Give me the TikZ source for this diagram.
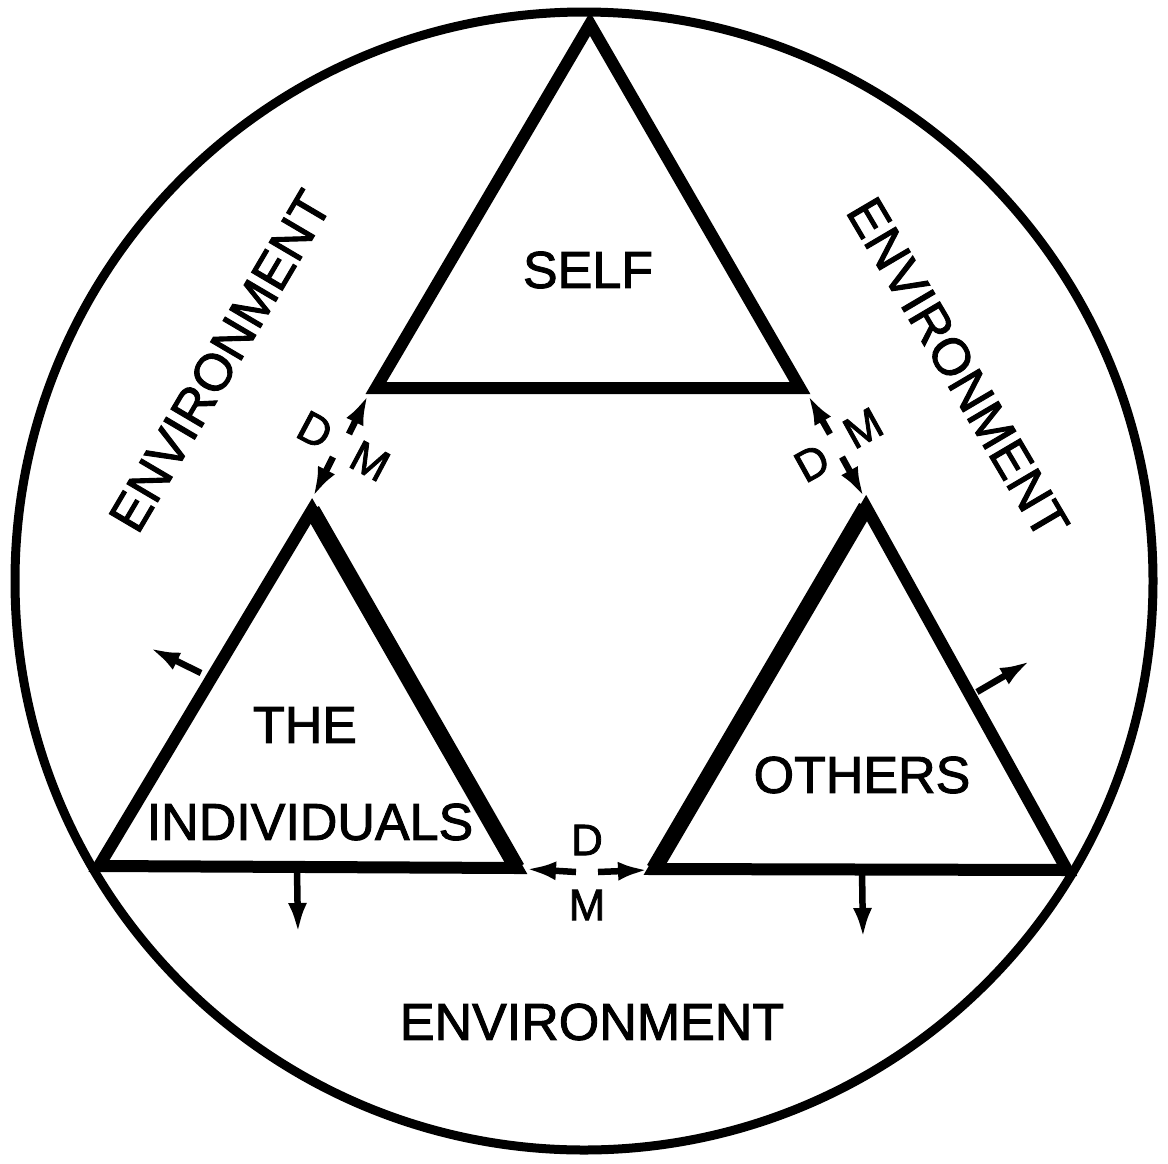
\documentclass[tikz,border=0pt]{standalone}
\usepackage{fontspec}
\setmainfont[FakeBold=1.8]{Liberation Sans}
\usetikzlibrary{arrows.meta}
\begin{document}
\begin{tikzpicture}[x=1pt,y=-1pt,
  edge/.style={line width=12pt, line join=miter},
  heavyedge/.style={line width=16pt},
  arr/.style={line width=6.5pt, -{Latex[length=30pt,width=19pt]}},
  lbl/.style={font=\fontsize{52}{60}\selectfont, inner sep=0pt},
  dm/.style={font=\fontsize{44}{50}\selectfont, inner sep=0pt}]
\useasboundingbox (0,0) rectangle (1168,1163);
% circle
\coordinate (O) at (584,581);
\draw[line width=9pt] (O) circle[radius=569];
% triangle vertices
\coordinate (T1) at (590,24);
\coordinate (T2) at (376,388);
\coordinate (T3) at (800,388);
\coordinate (L1) at (312,510);
\coordinate (L2) at (99,866);
\coordinate (L3) at (517,868);
\coordinate (R1) at (866,507);
\coordinate (R2) at (654,869);
\coordinate (R3) at (1067,870);
\draw[edge] (T1) -- (T2) -- (T3) -- cycle;
\draw[edge] (L1) -- (L2) -- (L3) -- cycle;
\draw[edge] (R1) -- (R2) -- (R3) -- cycle;
\draw[heavyedge] (L1) -- (L3);
\draw[heavyedge] (R1) -- (R2);
% connector coordinates
\coordinate (la1) at (349,434);
\coordinate (la1t) at (368,395);
\coordinate (la2) at (333,457);
\coordinate (la2t) at (313,497);
\coordinate (ra1) at (830,434);
\coordinate (ra1t) at (808,395);
\coordinate (ra2) at (842,457);
\coordinate (ra2t) at (864,497);
\coordinate (ba1) at (576,872);
\coordinate (ba1t) at (526,869);
\coordinate (ba2) at (598,872);
\coordinate (ba2t) at (648,870);
\coordinate (sl) at (201,673);
\coordinate (slt) at (150,648);
\coordinate (sr) at (977,692);
\coordinate (srt) at (1030,661);
\coordinate (dl) at (297,870);
\coordinate (dlt) at (298,933);
\coordinate (dr) at (862,870);
\coordinate (drt) at (863,938);
\draw[arr] (la1) -- (la1t);
\draw[arr] (la2) -- (la2t);
\draw[arr] (ra1) -- (ra1t);
\draw[arr] (ra2) -- (ra2t);
\draw[arr] (ba1) -- (ba1t);
\draw[arr] (ba2) -- (ba2t);
\draw[arr] (sl) -- (slt);
\draw[arr] (sr) -- (srt);
\draw[arr] (dl) -- (dlt);
\draw[arr] (dr) -- (drt);
% labels
\node[lbl] (self) at (588,270) {SELF};
\node[lbl] (the) at (305,725) {THE};
\node[lbl] (indiv) at (310,822) {INDIVIDUALS};
\node[lbl] (others) at (862,775) {OTHERS};
\node[lbl] (envb) at (592,1022) {ENVIRONMENT};
\node[lbl, rotate=59.5] (envl) at (220,361) {ENVIRONMENT};
\node[lbl, rotate=-59.5] (envr) at (958,368) {ENVIRONMENT};
\node[dm, rotate=-28] (dl1) at (315,430) {D};
\node[dm, rotate=-28] (ml1) at (370,461) {M};
\node[dm, rotate=29] (dr1) at (812,463) {D};
\node[dm, rotate=29] (mr1) at (863,428) {M};
\node[dm] (db) at (587,840) {D};
\node[dm] (mb) at (587,905) {M};
\end{tikzpicture}
\end{document}
